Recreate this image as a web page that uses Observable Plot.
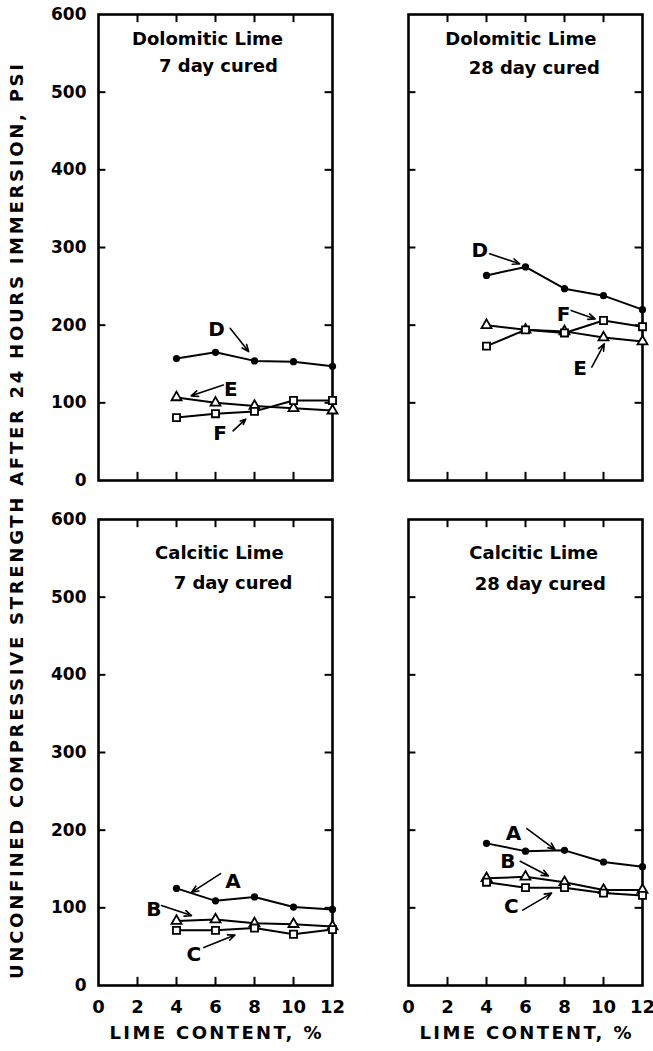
<!DOCTYPE html>
<html>
<head>
<meta charset="utf-8">
<script src="https://cdn.jsdelivr.net/npm/d3@7"></script>
<script src="https://cdn.jsdelivr.net/npm/@observablehq/plot@0.6"></script>
<style>
  html, body { margin: 0; padding: 0; background: #fff; }
</style>
</head>
<body>
<div id="chart"></div>
<script>
// ---- Data (lime content %, unconfined compressive strength psi) ----
const limeContent = [4, 6, 8, 10, 12];

// Dolomitic lime, 7 day cured
const dolo7D = [157, 165, 154, 153, 147];
const dolo7E = [107, 100, 96, 93, 90];
const dolo7F = [81, 86, 89, 103, 103];
// Dolomitic lime, 28 day cured
const dolo28D = [264, 275, 247, 238, 220];
const dolo28E = [200, 194, 192, 184, 179];
const dolo28F = [173, 194, 190, 206, 198];
// Calcitic lime, 7 day cured
const calc7A = [125, 109, 114, 101, 98];
const calc7B = [83, 85, 80, 79, 76];
const calc7C = [71, 71, 74, 66, 72];
// Calcitic lime, 28 day cured
const calc28A = [183, 173, 174, 159, 153];
const calc28B = [138, 140, 133, 123, 123];
const calc28C = [133, 126, 126, 119, 116];

const xTickLabels = [0, 2, 4, 6, 8, 10, 12];
const yTickLabels = [0, 100, 200, 300, 400, 500, 600];
const xInnerTicks = [2, 4, 6, 8, 10];
const yInnerTicks = [100, 200, 300, 400, 500];

const panelCol = ["left", "right", "left", "right"];
const panelRow = ["top", "top", "bottom", "bottom"];
const titleLine1 = ["Dolomitic Lime", "Dolomitic Lime", "Calcitic Lime", "Calcitic Lime"];
const titleLine2 = ["7 day cured", "28 day cured", "7 day cured", "28 day cured"];
const title1X = [5.59, 5.76, 6.2, 6.42];
const title1Y = [568, 568, 557, 557];
const title2X = [6.15, 6.45, 6.9, 6.76];
const title2Y = [534, 531, 518, 517];

// annotation letters with arrows (data coordinates)
const annCol = ["left", "left", "left", "right", "right", "right", "left", "left", "left", "right", "right", "right"];
const annRow = ["top", "top", "top", "top", "top", "top", "bottom", "bottom", "bottom", "bottom", "bottom", "bottom"];
const annLetter = ["D", "E", "F", "D", "F", "E", "A", "B", "C", "A", "B", "C"];
const annX = [6.06, 6.78, 6.23, 3.65, 7.95, 8.8, 6.9, 2.84, 4.89, 5.39, 5.1, 5.27];
const annY = [194, 117, 61, 296, 214, 144, 134, 98, 40, 196, 159, 101];
const arrX1 = [6.75, 6.4, 6.9, 4.16, 8.34, 9.4, 6.26, 3.23, 5.4, 6.07, 5.73, 5.86];
const arrY1 = [196, 123, 64, 292, 219, 146, 144, 103, 49, 202, 160, 97];
const arrX2 = [7.7, 4.75, 7.55, 5.7, 9.57, 10.04, 4.77, 4.77, 7.0, 7.52, 7.18, 7.34];
const arrY2 = [166, 109, 79, 279, 208, 176, 120, 90, 65, 175, 141, 119];

const yLabel = "UNCONFINED COMPRESSIVE STRENGTH AFTER 24 HOURS IMMERSION, PSI";
const xLabel = "LIME CONTENT, %";

// ---- Build tables ----
const panels = [
  {fx: "left", fy: "top", series: [["D", dolo7D, "circle"], ["E", dolo7E, "triangle"], ["F", dolo7F, "square"]]},
  {fx: "right", fy: "top", series: [["D", dolo28D, "circle"], ["E", dolo28E, "triangle"], ["F", dolo28F, "square"]]},
  {fx: "left", fy: "bottom", series: [["A", calc7A, "circle"], ["B", calc7B, "triangle"], ["C", calc7C, "square"]]},
  {fx: "right", fy: "bottom", series: [["A", calc28A, "circle"], ["B", calc28B, "triangle"], ["C", calc28C, "square"]]}
];
const rows = [];
for (const p of panels) {
  for (const [name, vals, sym] of p.series) {
    vals.forEach((v, i) => rows.push({fx: p.fx, fy: p.fy, key: p.fx + p.fy + name, sym, lime: limeContent[i], psi: v}));
  }
}
const titles = panelCol.map((c, i) => ({fx: c, fy: panelRow[i], t1: titleLine1[i], t2: titleLine2[i], x1: title1X[i], y1: title1Y[i], x2: title2X[i], y2: title2Y[i]}));
const anns = annLetter.map((l, i) => ({fx: annCol[i], fy: annRow[i], l, x: annX[i], y: annY[i], x1: arrX1[i], y1: arrY1[i], x2: arrX2[i], y2: arrY2[i]}));

const FONT = "DejaVu Sans";

const chart = Plot.plot({
  width: 653,
  height: 1051,
  marginLeft: 98,
  marginRight: 10,
  marginTop: 14,
  marginBottom: 65,
  fx: {domain: ["left", "right"], paddingInner: 0.245, paddingOuter: 0, axis: null},
  fy: {domain: ["top", "bottom"], paddingInner: 0.077, paddingOuter: 0, axis: null},
  x: {domain: [0, 12]},
  y: {domain: [0, 600]},
  style: {fontFamily: FONT, fontWeight: "bold", color: "black", background: "white", overflow: "visible"},
  marks: [
    // inward ticks
    Plot.ruleX(xInnerTicks, {x: d => d, y1: 0, y2: 10.5, stroke: "black", strokeWidth: 2}),
    Plot.ruleX(xInnerTicks, {x: d => d, y1: 589.5, y2: 600, stroke: "black", strokeWidth: 2}),
    Plot.ruleY(yInnerTicks, {y: d => d, x1: 0, x2: 0.38, stroke: "black", strokeWidth: 2}),
    Plot.ruleY(yInnerTicks, {y: d => d, x1: 11.62, x2: 12, stroke: "black", strokeWidth: 2}),
    Plot.frame({stroke: "black", strokeWidth: 2.6}),
    Plot.axisY({ticks: yTickLabels, tickSize: 0, tickPadding: 12, fontSize: 17, fontWeight: "bold", fontFamily: FONT, label: null}),
    Plot.axisX({ticks: xTickLabels, tickSize: 0, tickPadding: 15, fontSize: 18, fontWeight: "bold", fontFamily: FONT, label: null}),
    // series lines and symbols
    Plot.line(rows, {x: "lime", y: "psi", z: "key", fx: "fx", fy: "fy", stroke: "black", strokeWidth: 2}),
    Plot.dot(rows.filter(d => d.sym === "circle"), {x: "lime", y: "psi", fx: "fx", fy: "fy", r: 3.6, fill: "black"}),
    Plot.dot(rows.filter(d => d.sym === "triangle"), {x: "lime", y: "psi", fx: "fx", fy: "fy", symbol: "triangle", r: 3.7, fill: "white", stroke: "black", strokeWidth: 1.8}),
    Plot.dot(rows.filter(d => d.sym === "square"), {x: "lime", y: "psi", fx: "fx", fy: "fy", symbol: "square", r: 4, fill: "white", stroke: "black", strokeWidth: 1.8}),
    // panel titles
    Plot.text(titles, {x: "x1", y: "y1", text: "t1", fx: "fx", fy: "fy", fontSize: 18, fontWeight: "bold", fontFamily: FONT, fill: "black"}),
    Plot.text(titles, {x: "x2", y: "y2", text: "t2", fx: "fx", fy: "fy", fontSize: 18, fontWeight: "bold", fontFamily: FONT, fill: "black"}),
    // annotation letters and arrows
    Plot.text(anns, {x: "x", y: "y", text: "l", fx: "fx", fy: "fy", fontSize: 20, fontWeight: "bold", fontFamily: FONT, fill: "black"}),
    Plot.arrow(anns, {x1: "x1", y1: "y1", x2: "x2", y2: "y2", fx: "fx", fy: "fy", stroke: "black", strokeWidth: 1.6, headLength: 7, headAngle: 45}),
    // x-axis titles under bottom panels
    Plot.text([{fx: "left", fy: "bottom"}, {fx: "right", fy: "bottom"}], {fx: "fx", fy: "fy", text: () => xLabel, frameAnchor: "bottom", textAnchor: "middle", dy: 53, fontSize: 18, fontWeight: "bold", fontFamily: FONT, fill: "black"}),
    // shared y-axis title
    Plot.text([{fx: "left", fy: "top"}], {fx: "fx", fy: "fy", text: () => yLabel, frameAnchor: "left", textAnchor: "middle", rotate: -90, dx: -81.5, dy: 274, fontSize: 18, fontWeight: "bold", fontFamily: FONT, fill: "black"})
  ]
});

document.getElementById("chart").appendChild(chart);

// stretch the lettered axis titles to the spacing of the original
chart.querySelectorAll("text").forEach(t => {
  if (t.textContent === yLabel) { t.setAttribute("textLength", 915); t.setAttribute("lengthAdjust", "spacing"); }
  if (t.textContent === xLabel) { t.setAttribute("textLength", 212); t.setAttribute("lengthAdjust", "spacing"); }
});
</script>
</body>
</html>
